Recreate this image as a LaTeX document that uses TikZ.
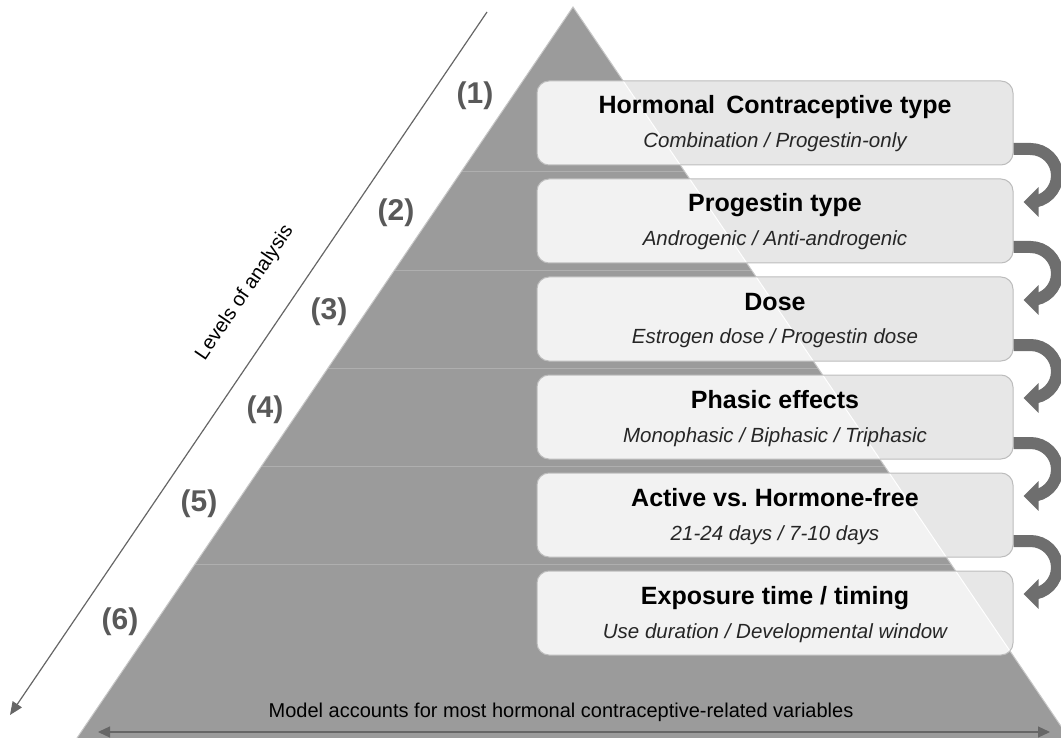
\documentclass[tikz,border=0pt]{standalone}
\usepackage{fontspec}
\setmainfont{Liberation Sans}
\usetikzlibrary{arrows.meta,calc}
\definecolor{pyr}{HTML}{9B9B9B}
\definecolor{pyredge}{HTML}{C8C8C8}
\definecolor{boxfill}{HTML}{F2F2F2}
\definecolor{boxshade}{HTML}{E7E7E7}
\definecolor{boxline}{HTML}{BDBDBD}
\definecolor{arrowgray}{HTML}{6E6E6E}
\definecolor{numgray}{HTML}{595959}
\definecolor{linegray}{HTML}{666666}
\begin{document}
\begin{tikzpicture}[x=1pt,y=1pt,
  levelbox/.style={draw=boxline, line width=1pt, fill=boxfill, rounded corners=12pt,
    minimum width=476pt, minimum height=84pt, inner sep=0pt,
    path picture={\fill[boxshade] (apex) -- (baseR) -- (farR) -- (farT) -- cycle;
                  \draw[white, line width=1pt] (apex) -- (baseR);}},
  titletext/.style={font=\fontsize{25}{29}\selectfont\bfseries, anchor=base, inner sep=0pt, text=black},
  subtext/.style={font=\fontsize{20.5}{24}\selectfont\itshape, anchor=base, inner sep=0pt, text=black!85},
  numlabel/.style={font=\fontsize{30}{34}\selectfont\bfseries, text=numgray, inner sep=0pt},
  plaintext/.style={font=\fontsize{20}{24}\selectfont, inner sep=0pt, text=black},
  curvarrow/.style={draw=arrowgray, line width=12pt, -{Triangle[length=15pt,width=29pt]}},
  thinarrow/.style={draw=linegray, line width=1.2pt},
]
\useasboundingbox (0,-738) rectangle (1061,0);
\coordinate (apex) at (573,-7);
\coordinate (baseL) at (77,-738);
\coordinate (baseR) at (1069,-738);
\coordinate (farR) at (1300,-738);
\coordinate (farT) at (1300,0);

% pyramid
\fill[pyr] (apex) -- (baseR) -- (baseL) -- cycle;
\begin{scope}
  \clip (apex) -- (baseR) -- (baseL) -- cycle;
  \foreach \y in {171,270,368,466,564}
    \draw[pyredge!45!pyr, line width=0.8pt] (0,-\y) -- (1061,-\y);
\end{scope}
\draw[pyredge, line width=1pt] (baseL) -- (apex) -- (baseR);

% boxes
\foreach \i/\yc in {1/123,2/221,3/319,4/417,5/515,6/613}
  \node[levelbox] (b\i) at (775,-\yc) {};

\node[titletext] (t1) at ([yshift=9pt]b1.center) {Hormonal\hspace{0.45em}Contraceptive type};
\node[subtext]   (s1) at ([yshift=-25pt]b1.center) {Combination / Progestin-only};
\node[titletext] (t2) at ([yshift=9pt]b2.center) {Progestin type};
\node[subtext]   (s2) at ([yshift=-25pt]b2.center) {Androgenic / Anti-androgenic};
\node[titletext] (t3) at ([yshift=9pt]b3.center) {Dose};
\node[subtext]   (s3) at ([yshift=-25pt]b3.center) {Estrogen dose / Progestin dose};
\node[titletext] (t4) at ([yshift=9pt]b4.center) {Phasic effects};
\node[subtext]   (s4) at ([yshift=-25pt]b4.center) {Monophasic / Biphasic / Triphasic};
\node[titletext] (t5) at ([yshift=9pt]b5.center) {Active vs.\ Hormone-free};
\node[subtext]   (s5) at ([yshift=-25pt]b5.center) {21-24 days / 7-10 days};
\node[titletext] (t6) at ([yshift=9pt]b6.center) {Exposure time / timing};
\node[subtext]   (s6) at ([yshift=-25pt]b6.center) {Use duration / Developmental window};

% curved arrows
\foreach \i/\j in {1/2,2/3,3/4,4/5,5/6}
  \draw[curvarrow] ([yshift=-26pt]b\i.east) -- ++(17pt,0)
    arc[start angle=90,end angle=-90,radius=26.5pt] -- ([xshift=10pt,yshift=19pt]b\j.east);

% level numbers
\node[numlabel] (n1) at (475,-96) {(1)};
\node[numlabel] (n2) at (396,-213) {(2)};
\node[numlabel] (n3) at (329,-312) {(3)};
\node[numlabel] (n4) at (265,-410) {(4)};
\node[numlabel] (n5) at (199,-504) {(5)};
\node[numlabel] (n6) at (120,-622) {(6)};

% levels of analysis arrow
\coordinate (lvTop) at (487,-12);
\coordinate (lvEnd) at (10,-715);
\draw[thinarrow, -{Triangle[length=13pt,width=11pt]}] (lvTop) -- (lvEnd);
\node[plaintext, rotate=55.8] (lvtext) at (245,-293) {Levels of analysis};

% bottom arrow
\coordinate (bl) at (98,-732);
\coordinate (br) at (1050,-732);
\draw[thinarrow, {Triangle[length=12pt,width=11pt]}-{Triangle[length=12pt,width=11pt]}] (bl) -- (br);
\node[plaintext] (model) at (561,-712) {Model accounts for most hormonal contraceptive-related variables};
\end{tikzpicture}
\end{document}
